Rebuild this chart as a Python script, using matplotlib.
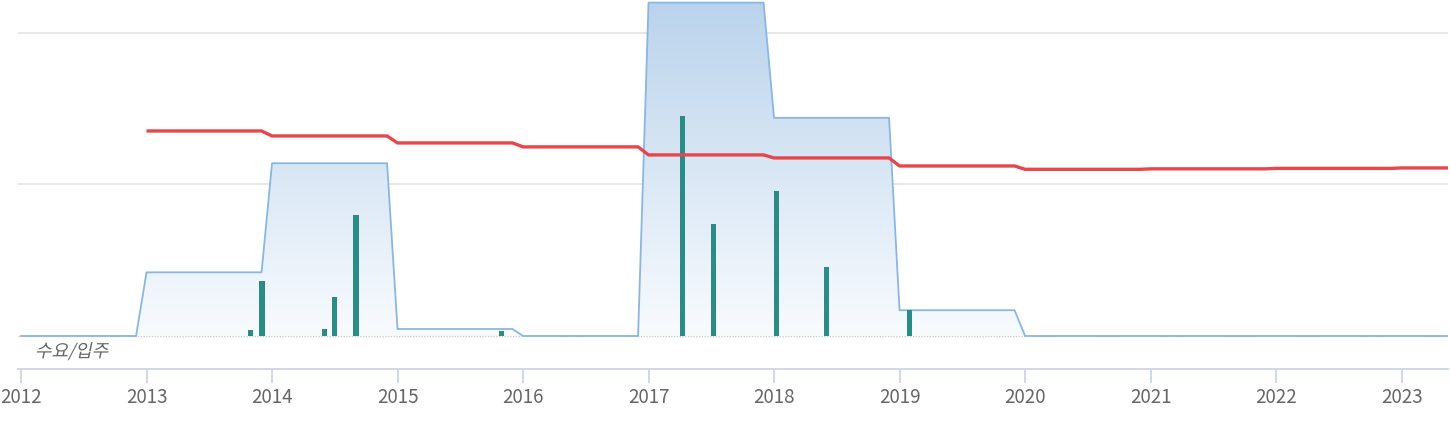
import numpy as np
import matplotlib
matplotlib.use("Agg")
import matplotlib.pyplot as plt
from matplotlib.colors import LinearSegmentedColormap
from matplotlib.patches import Polygon, PathPatch
from matplotlib.textpath import TextPath
from matplotlib.font_manager import FontProperties
from matplotlib.transforms import Affine2D, IdentityTransform

plt.rcParams['font.family'] = ['Noto Sans CJK KR', 'DejaVu Sans']

### data (arbitrary units: gridlines at 1 and 2)
years = [2012, 2013, 2014, 2015, 2016, 2017, 2018, 2019, 2020, 2021, 2022, 2023]
supply = [0, 0.42, 1.14, 0.046, 0, 2.2, 1.44, 0.17, 0, 0, 0, 0]

demand_years = [2013, 2014, 2015, 2016, 2017, 2018, 2019, 2020, 2021, 2022, 2023]
demand = [1.353, 1.32, 1.274, 1.248, 1.195, 1.175, 1.122, 1.10, 1.103, 1.106, 1.109]

move_in_x = [2013.83, 2013.92, 2014.42, 2014.5, 2014.67, 2015.83,
             2017.27, 2017.52, 2018.02, 2018.42, 2019.08]
move_in = [0.04, 0.363, 0.046, 0.26, 0.80, 0.033, 1.45, 0.74, 0.96, 0.453, 0.172]

xticks = list(range(2012, 2024))
label = "수요/입주"


def yearly_steps(xs, vs):
    # each yearly value spans Jan..Dec, joined by a one-month ramp
    px, py = [], []
    for x, v in zip(xs, vs):
        px += [x, x + 11 / 12]
        py += [v, v]
    return np.array(px), np.array(py)


W, H = 1450, 431
fig = plt.figure(figsize=(W / 100, H / 100), dpi=100)
ax = fig.add_axes([18 / W, 1 - 370 / H, 1430 / W, 370 / H])
xmin, xmax = 2011.976, 2023.37
ymin, ymax = -0.218, 2.224
ax.set_xlim(xmin, xmax)
ax.set_ylim(ymin, ymax)

# grid
for g in (1, 2):
    ax.axhline(g, color='#e6e6e6', lw=1.3, zorder=0)
ax.axhline(0, color='#cccccc', lw=1.0, ls=(0, (1, 1)), zorder=0)

# supply area with vertical gradient
sx, sy = yearly_steps(years, supply)
cmap = LinearSegmentedColormap.from_list('bl', ['#f8fbfe', '#bad3ec'])
grad = np.linspace(0, 1, 256).reshape(-1, 1)
im = ax.imshow(grad, cmap=cmap, aspect='auto', origin='lower',
               extent=[xmin, xmax, 0, max(supply)], zorder=1)
poly = Polygon(np.column_stack([np.r_[sx[0], sx, sx[-1]], np.r_[0, sy, 0]]),
               closed=True, facecolor='none', edgecolor='none')
ax.add_patch(poly)
im.set_clip_path(poly)
ax.plot(sx, sy, color='#8ab6e3', lw=1.3, zorder=2)

# move-in bars
ax.bar(move_in_x, move_in, width=0.042, color='#2b8c86', zorder=3)

# demand line
dx, dy = yearly_steps(demand_years, demand)
ax.plot(dx, dy, color='#e8464b', lw=2.4, zorder=4, solid_capstyle='butt')

# pane label, slanted by hand since the CJK font has no italic face
tp = TextPath((0, 0), label, size=18, prop=FontProperties(family='Noto Sans CJK KR'))
tr = Affine2D().skew_deg(12, 0).translate(35, H - 358) + IdentityTransform()
fig.add_artist(PathPatch(tp, transform=tr, facecolor='#666666', edgecolor='none'))

# axes styling
for s in ('top', 'right', 'left'):
    ax.spines[s].set_visible(False)
ax.spines['bottom'].set_color('#ccd6eb')
ax.spines['bottom'].set_linewidth(1.3)
ax.set_yticks([])
ax.set_xticks(xticks)
ax.set_xticklabels([str(t) for t in xticks])
ax.tick_params(axis='x', direction='out', length=10, width=1.3, color='#ccd6eb',
               labelsize=13.5, labelcolor='#666666', pad=2)

fig.savefig('out.png', dpi=100)
